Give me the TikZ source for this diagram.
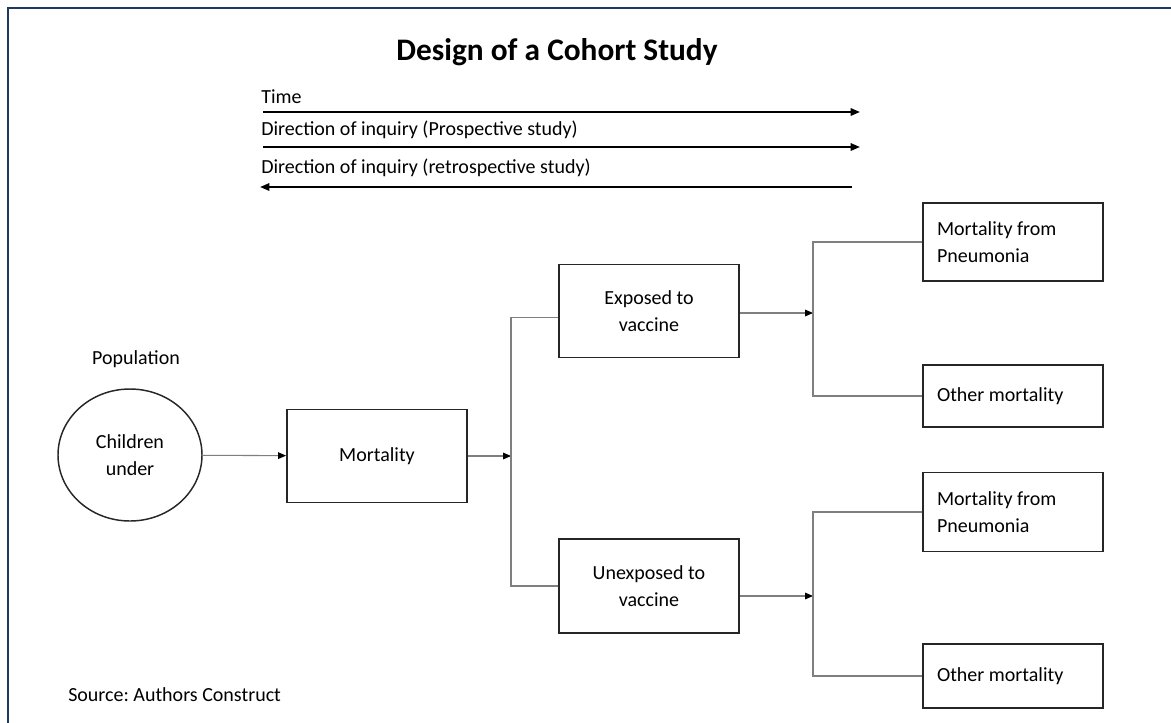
\documentclass[tikz,border=0pt]{standalone}
\usepackage{fontspec}
\setmainfont{Carlito}
\usetikzlibrary{arrows.meta,positioning,shapes.geometric}
\definecolor{framenavy}{HTML}{1F3864}
\definecolor{linkgray}{HTML}{7F7F7F}
\definecolor{boxdark}{HTML}{262626}
\tikzset{
  box/.style={draw=boxdark, line width=1.4pt, minimum width=135pt, align=center, inner sep=0pt},
  outbox/.style={box, text width=114pt, inner xsep=10.5pt, align=flush left},
  popcirc/.style={ellipse, draw=boxdark, line width=1.1pt, minimum width=108pt, minimum height=99pt, align=center, inner sep=0pt},
  link/.style={draw=linkgray, line width=0.8pt},
  tip/.style={-{Triangle[length=6pt,width=5pt,color=black]}},
  timeline/.style={draw=black, line width=1.5pt, -{Triangle[length=7pt,width=5.5pt]}},
  lab/.style={anchor=west, inner sep=0pt}
}
\frenchspacing
\begin{document}
\begin{tikzpicture}[x=0.75pt, y=-0.75pt, font=\fontsize{15}{20.5}\selectfont]
  \useasboundingbox (0,0) rectangle (1171,722);
  \draw[framenavy, line width=1.5pt] (8,740) -- (8,8) -- (1190,8);

  % title and time lines
  \node[font=\bfseries\fontsize{23.5}{28}\selectfont] (title) at (557,52) {Design of a Cohort Study};
  \node[lab] (timelab) at (261,97) {Time};
  \draw[timeline] (263,112) -- (860,112);
  \node[lab] (prolab) at (261,130) {Direction of inquiry (Prospective study)};
  \draw[timeline] (263,147) -- (860,147);
  \node[lab] (retrolab) at (261,168) {Direction of inquiry (retrospective study)};
  \draw[timeline] (852,187) -- (260,187);

  % population
  \node (poplab) at (136,359) {Population};
  \node[popcirc] (pop) at (130,455) {Children\\under};
  \node[box, minimum height=69.75pt] (mort) at (377,456) {Mortality};

  % exposure groups
  \node[box, minimum height=69.75pt] (expo) at (649,311) {Exposed to\\vaccine};
  \node[box, minimum height=70.5pt] (unexp) at (649,586) {Unexposed to\\vaccine};

  % outcomes
  \node[outbox, minimum height=58.5pt] (pneuA) at (1013,242) {Mortality from\\Pneumonia};
  \node[outbox, minimum height=46.5pt] (otherA) at (1013,396) {Other mortality};
  \node[outbox, minimum height=59.25pt] (pneuB) at (1013,512) {Mortality from\\Pneumonia};
  \node[outbox, minimum height=48pt] (otherB) at (1013,676) {Other mortality};

  \coordinate (forkM) at (511,456);
  \coordinate (forkE) at (813,313);
  \coordinate (forkU) at (813,596);

  \draw[link, tip] (pop) -- (mort);
  \draw[link, tip] (mort) -- (forkM);
  \draw[link] ([yshift=-5pt]expo.west) -| (forkM) |- (unexp.west);
  \draw[link, tip] (expo.east |- forkE) -- (forkE);
  \draw[link] (pneuA.west) -| (forkE) |- (otherA.west);
  \draw[link, tip] (unexp.east |- forkU) -- (forkU);
  \draw[link] (pneuB.west) -| (forkU) |- (otherB.west);

  \node[lab] (source) at (68,695) {Source: Authors Construct};
\end{tikzpicture}
\end{document}
